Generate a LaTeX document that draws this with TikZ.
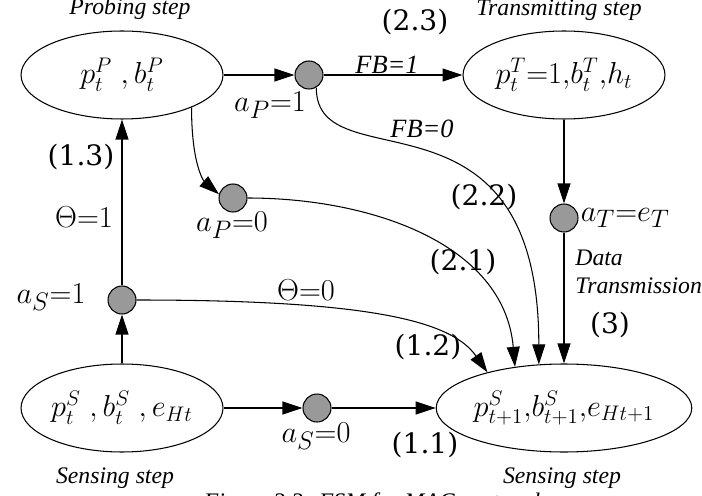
\documentclass[tikz,border=0pt]{standalone}
\usepackage{fontspec}
\setmainfont{DejaVu Serif}
\newfontfamily\capfont{Liberation Serif}
\usetikzlibrary{arrows.meta,shapes.geometric}

\tikzset{
  state/.style={draw, ellipse, minimum width=4.04cm, minimum height=1.76cm, inner sep=0pt, font=\fontsize{17}{20}\selectfont},
  choice/.style={draw, circle, fill=black!40, minimum size=0.56cm, inner sep=0pt},
  stepname/.style={font=\capfont\itshape\fontsize{13.5}{16}\selectfont},
  lbl/.style={font=\fontsize{16}{19}\selectfont},
  act/.style={font=\fontsize{19}{22}\selectfont},
  arr/.style={-{Triangle[length=0.4cm,width=0.26cm]}},
}

\begin{document}
\begin{tikzpicture}[x=0.02cm, y=-0.02cm, line width=0.6pt]

\useasboundingbox (0,0) rectangle (702,496);

\node[state] (probe) at (122,75) {$p_t^P\;,b_t^P$};
\node[state] (trans) at (564,75) {$p_t^T{=}1,\!b_t^T,\!h_t$};
\node[state] (sense) at (122,408) {$p_t^S\;,b_t^S\;,e_{Ht}$};
\node[state] (next) at (564,408) {$p_{t+1}^S,\!b_{t+1}^S,\!e_{Ht+1}$};

\node[choice] (aP1) at (309,75) {};
\node[choice] (aP0) at (233,198) {};
\node[choice] (aS1) at (122,300) {};
\node[choice] (aS0) at (317,408) {};
\node[choice] (aT) at (564,218) {};

\node[stepname, anchor=base] (probename) at (130,15) {Probing step};
\node[stepname, anchor=base] (transname) at (559,16) {Transmitting step};
\node[stepname, anchor=base] (sensename) at (115,483) {Sensing step};
\node[stepname, anchor=base] (nextname) at (562,483) {Sensing step};
\node[stepname, align=left, anchor=west] (dataname) at (569,272) {Data\\Transmission};
\node[stepname, anchor=north] (figcap) at (372,486) {Figure 3.3: FSM for MAC protocol};

\draw[arr] (probe) -- (aP1);
\draw[arr] (aP1) -- (trans);
\draw[arr] (trans) -- (aT);
\draw[arr] (aT) -- (next);
\draw[arr] (sense) -- (aS1);
\draw[arr] (aS1) -- (probe);
\draw[arr] (sense) -- (aS0);
\draw[arr] (aS0) -- (next);

\draw[arr] (probe.-25) .. controls +(0,60) and +(-14,-12) .. (aP0.165);
\draw[arr] (aP0) to[out=0, in=95] (next.140);
\draw[arr] (aP1.-60) to[out=-90, in=90, out looseness=0.7, in looseness=2.1] (next.120);
\draw[arr] (aS1.east) .. controls +(240,0) and +(-35,-50) .. (next.155);

\node[act] (lP1) at (270,105) {$a_P{=}1$};
\node[act] (lP0) at (232,225) {$a_P{=}0$};
\node[lbl] (l13) at (81,157) {(1.3)};
\node[act] (lth1) at (84,217) {$\Theta{=}1$};
\node[act] (lS1) at (51,297) {$a_S{=}1$};
\node[act] (lth0) at (306,290) {$\Theta{=}0$};
\node[act] (lS0) at (316,436) {$a_S{=}0$};
\node[act, anchor=west, inner sep=1pt] (lT) at (aT.east) {$a_T{=}e_T$};

\node[stepname, font=\capfont\itshape\fontsize{15}{18}\selectfont] (lfb1) at (387,65) {FB=1};
\node[stepname, font=\capfont\itshape\fontsize{15}{18}\selectfont] (lfb0) at (422,129) {FB=0};

\node[lbl] (l23) at (415,22) {(2.3)};
\node[lbl] (l22) at (484,197) {(2.2)};
\node[lbl] (l21) at (463,262) {(2.1)};
\node[lbl] (l3) at (610,325) {(3)};
\node[lbl] (l12) at (428,347) {(1.2)};
\node[lbl] (l11) at (425,445) {(1.1)};

\end{tikzpicture}
\end{document}
